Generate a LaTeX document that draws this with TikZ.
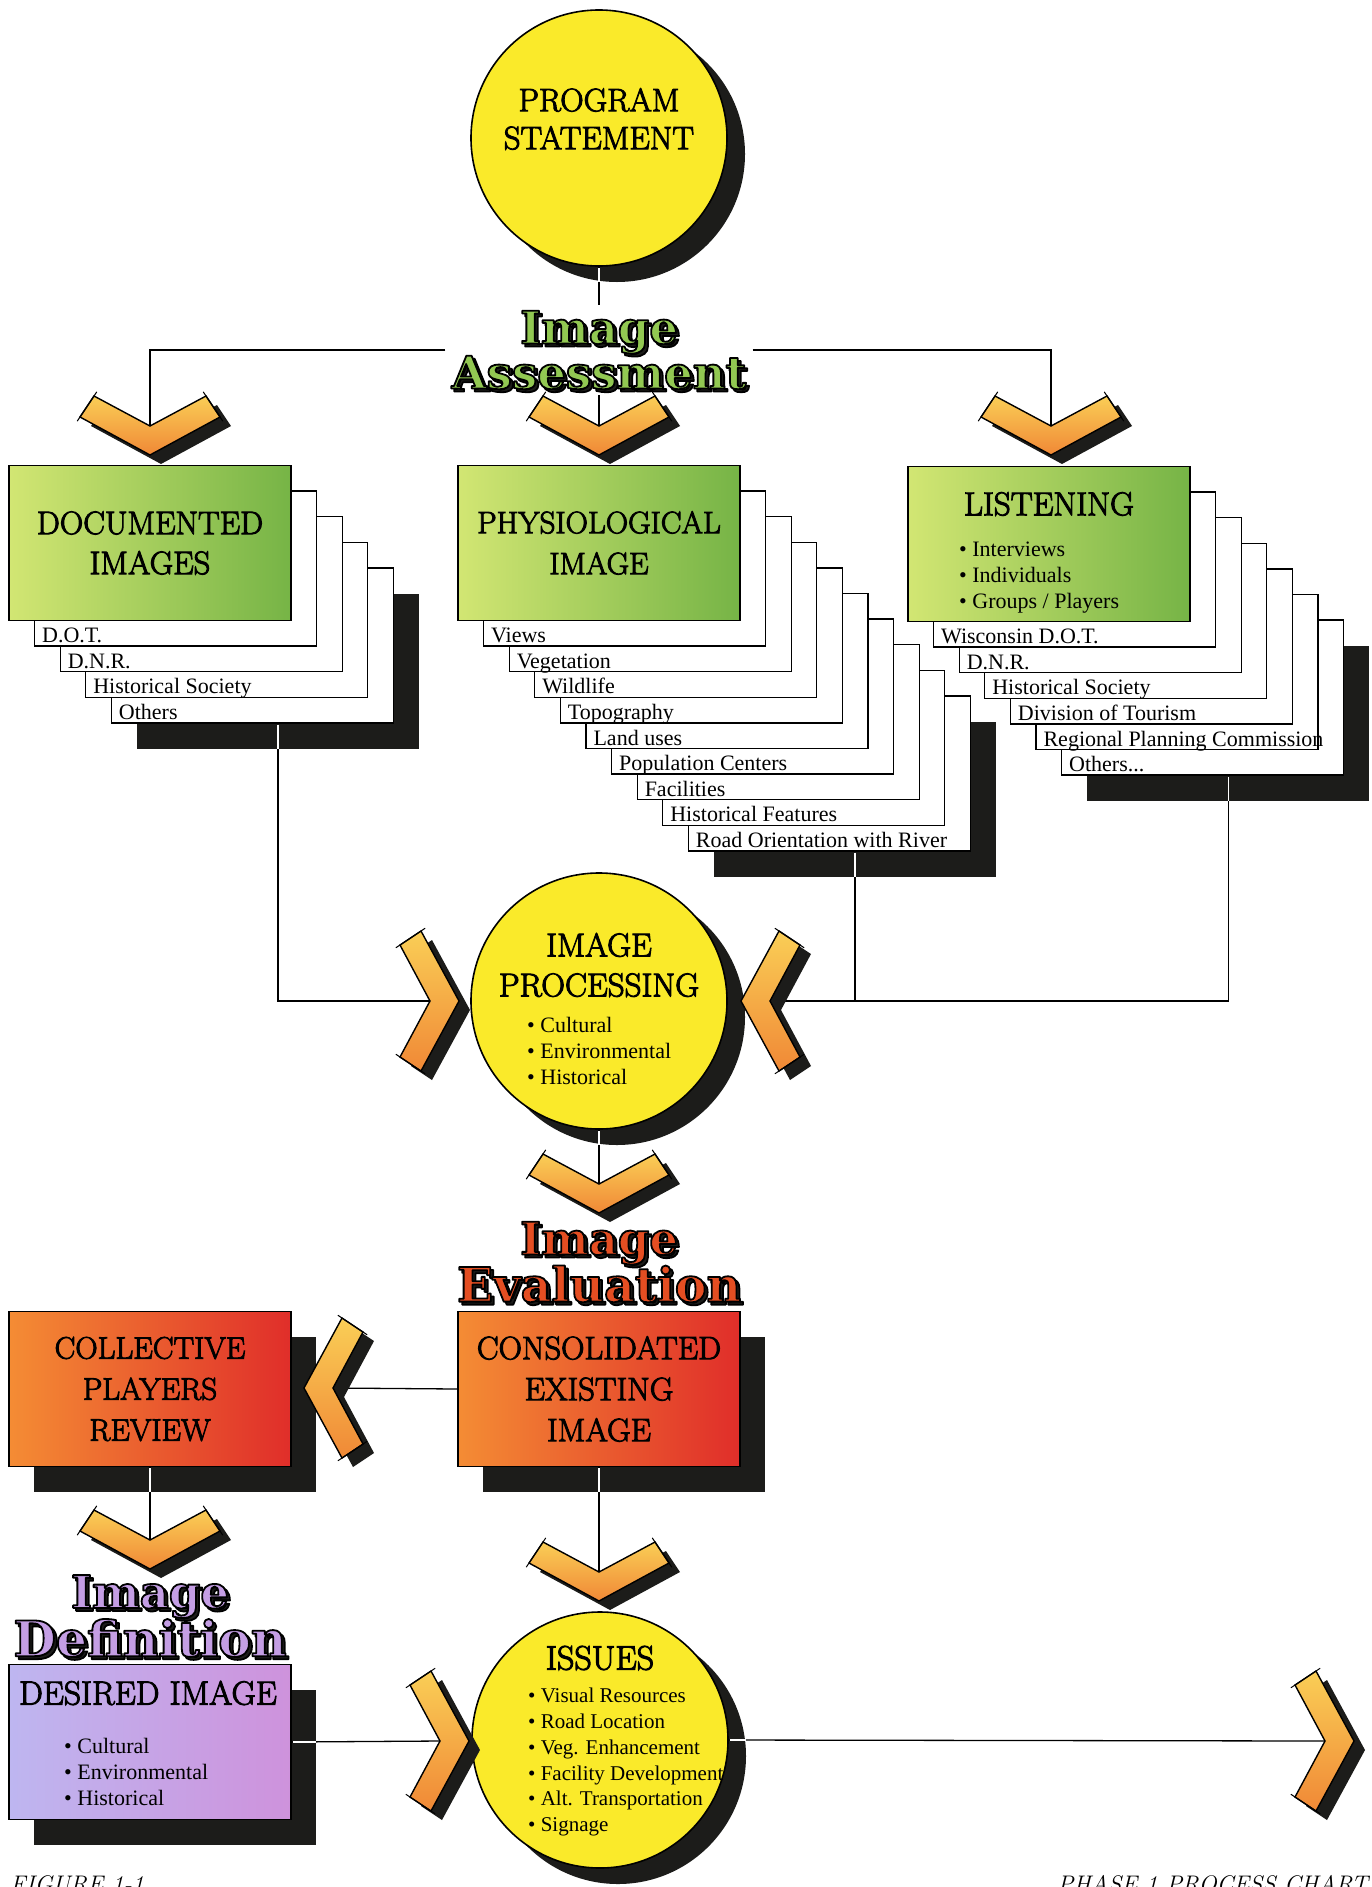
\documentclass[tikz,border=0pt]{standalone}
\usepackage{fontspec}
\newfontfamily\listfont{Liberation Serif}
\newfontfamily\artfont{DejaVu Serif}
\newfontfamily\headfont{Latin Modern Roman}[FakeBold=3]
\newcommand{\threedots}{...}
% fill the glyphs and stroke them in black
\newcommand{\inked}[1]{\special{pdf:literal direct 0 G 1.8 w 1 j 2 Tr}#1\special{pdf:literal direct 0 Tr}}

\definecolor{sunny}{RGB}{250,234,42}
\definecolor{darkshadow}{RGB}{28,28,26}
\definecolor{leafA}{RGB}{210,230,115}
\definecolor{leafB}{RGB}{118,180,70}
\definecolor{emberA}{RGB}{244,140,52}
\definecolor{emberB}{RGB}{224,46,42}
\definecolor{lilacA}{RGB}{190,182,240}
\definecolor{lilacB}{RGB}{206,146,220}
\definecolor{chevA}{RGB}{250,206,86}
\definecolor{chevB}{RGB}{240,136,54}
\definecolor{artgreen}{RGB}{146,200,82}
\definecolor{artred}{RGB}{228,78,34}
\definecolor{artlilac}{RGB}{196,158,228}

\tikzset{
  conn/.style={line width=1.3pt, black},
  cutline/.style={line width=1.3pt, white, shorten <=1pt},
  bigcircle/.style={circle, draw=black, line width=1.6pt, fill=sunny, minimum size=256pt, inner sep=0pt},
  circshadow/.style={circle, fill=darkshadow, minimum size=256pt, inner sep=0pt},
  tabbox/.style={draw=black, line width=1.3pt, fill=white, minimum width=282pt, minimum height=155pt, inner sep=0pt},
  boxshadow/.style={fill=darkshadow, minimum width=282pt, minimum height=155pt, inner sep=0pt},
  headtext/.style={font=\headfont\fontsize{32.5}{40}\selectfont, align=center, inner sep=0pt},
  colbox/.style={draw=black, line width=1.6pt, minimum width=282pt, minimum height=155pt, inner sep=0pt, align=center, font=\headfont\fontsize{32.5}{41}\selectfont},
  greenbox/.style={colbox, left color=leafA, right color=leafB},
  redbox/.style={colbox, left color=emberA, right color=emberB},
  lilacbox/.style={colbox, left color=lilacA, right color=lilacB},
  tablabel/.style={font=\listfont\fontsize{22}{26}\selectfont, inner sep=0pt, anchor=base west},
  bullets/.style={font=\listfont\fontsize{22}{26}\selectfont, inner sep=0pt, align=left, anchor=north west},
  arttitle/.style={font=\artfont\bfseries\fontsize{45}{45}\selectfont, align=center, inner sep=6pt},
  chevbody/.style={draw=black, line width=1.4pt, top color=chevA, bottom color=chevB},
  chevshadow/.style={fill=darkshadow},
  chevtick/.style={black, line width=1pt, shorten <=-5pt, shorten >=-5pt},
  footer/.style={font=\itshape\fontsize{24}{24}\selectfont, inner sep=0pt}
}

% chevron with its inner vertex at #1, turned by #2
\newcommand{\chevmark}[2]{%
  \begin{scope}[shift={(#1)}]
    \fill[chevshadow, shift={(11,9)}, rotate=#2] (0,0) -- (-56,-30) -- (-70,-9) -- (0,29) -- (70,-9) -- (56,-30) -- cycle;
    \filldraw[chevbody, rotate=#2] (0,0) -- (-56,-30) -- (-70,-9) -- (0,29) -- (70,-9) -- (56,-30) -- cycle;
    \draw[chevtick, rotate=#2] (-56,-30) -- (-70,-9);
    \draw[chevtick, rotate=#2] (56,-30) -- (70,-9);
  \end{scope}}

\begin{document}
\begin{tikzpicture}[x=1pt, y=-1pt]
\useasboundingbox (0,0) rectangle (1372,1887);
\fill[white] (0,0) rectangle (1372,1887);
\clip (0,0) rectangle (1372,1887);

% program statement
\node[circshadow] (psh) at (617,154) {};
\node[bigcircle] (ps) at (599,138) {};
\node[headtext, font=\headfont\fontsize{32.5}{38}\selectfont] (pst) at (599,119) {PROGRAM\\STATEMENT};

% documented images
\coordinate (docc) at (150,543);
\node[boxshadow] (docsh) at ([shift={(5*25.6,5*25.6)}]docc) {};
\foreach \k/\t in {4/Others,3/Historical Society,2/D.N.R.,1/D.O.T.}{
  \node[tabbox] (doc\k) at ([shift={(\k*25.6,\k*25.6)}]docc) {};
  \node[tablabel] (doclbl\k) at ([shift={(8,-4)}]doc\k.south west) {\t};
}
\node[greenbox, font=\headfont\fontsize{32.5}{40}\selectfont] (doc) at (docc) {DOCUMENTED\\IMAGES};

% physiological image
\coordinate (phyc) at (599,543);
\node[boxshadow] (physh) at ([shift={(10*25.6,10*25.6)}]phyc) {};
\foreach \k/\t in {9/Road Orientation with River,8/Historical Features,7/Facilities,6/Population Centers,5/Land uses,4/Topography,3/Wildlife,2/Vegetation,1/Views}{
  \node[tabbox] (phy\k) at ([shift={(\k*25.6,\k*25.6)}]phyc) {};
  \node[tablabel] (phylbl\k) at ([shift={(8,-4)}]phy\k.south west) {\t};
}
\node[greenbox, font=\headfont\fontsize{31}{41}\selectfont] (phy) at (phyc) {PHYSIOLOGICAL\\IMAGE};

% listening
\coordinate (lisc) at (1049,544);
\node[boxshadow] (lissh) at ([shift={(7*25.6,7*25.6)}]lisc) {};
\foreach \k/\t in {6/Others\threedots,5/Regional Planning Commission,4/Division of Tourism,3/Historical Society,2/D.N.R.,1/Wisconsin D.O.T.}{
  \node[tabbox] (lis\k) at ([shift={(\k*25.6,\k*25.6)}]lisc) {};
  \node[tablabel] (lislbl\k) at ([shift={(8,-4)}]lis\k.south west) {\t};
}
\node[greenbox] (lis) at (lisc) {};
\node[headtext, font=\headfont\fontsize{33}{40}\selectfont] (lish) at (1049,504) {LISTENING};
\node[bullets] (lisb) at (959,542) {• Interviews\\• Individuals\\• Groups / Players};

% image processing
\node[circshadow] (pcsh) at (617,1017) {};
\node[bigcircle] (pc) at (599,1001) {};
\node[headtext, font=\headfont\fontsize{33}{40}\selectfont] (pch) at (599,965) {IMAGE\\PROCESSING};
\node[bullets] (pcb) at (527,1017) {• Cultural\\• Environmental\\• Historical};

% evaluation boxes
\node[boxshadow] (conssh) at (624,1414) {};
\node[redbox] (cons) at (599,1389) {CONSOLIDATED\\EXISTING\\IMAGE};
\node[boxshadow] (collsh) at (175,1414) {};
\node[redbox, font=\headfont\fontsize{31}{41}\selectfont] (coll) at (150,1389) {COLLECTIVE\\PLAYERS\\REVIEW};

% desired image
\node[boxshadow] (dessh) at (175,1767) {};
\node[lilacbox] (des) at (150,1742) {};
\node[headtext, font=\headfont\fontsize{33.5}{40}\selectfont] (desh) at (148,1693) {DESIRED IMAGE};
\node[bullets] (desb) at (64,1738) {• Cultural\\• Environmental\\• Historical};

% issues
\node[circshadow] (issh) at (618,1756) {};
\node[bigcircle] (is) at (600,1740) {};
\node[headtext, font=\headfont\fontsize{34}{40}\selectfont] (ist) at (600,1658) {ISSUES};
\node[bullets, font=\listfont\fontsize{21}{25.8}\selectfont] (isb) at (528,1688) {• Visual Resources\\• Road Location\\• Veg. Enhancement\\• Facility Development\\• Alt. Transportation\\• Signage};

% chevron points
\coordinate (ca1) at (150,426);
\coordinate (ca2) at (599,426);
\coordinate (ca3) at (1051,426);
\coordinate (cp1) at (430,1001);
\coordinate (cp2) at (770,1001);
\coordinate (ce) at (599,1184);
\coordinate (cc) at (333,1388);
\coordinate (cr) at (150,1540);
\coordinate (ci) at (599,1572);
\coordinate (cd) at (440,1741);
\coordinate (cz) at (1325,1741);

% titles
\node[arttitle, text=darkshadow] (iash) at (602,353) {\inked{Image}\\\inked{Assessment}};
\node[arttitle, text=artgreen] (ia) at (599,350) {\inked{Image}\\\inked{Assessment}};
\node[arttitle, text=darkshadow] (iesh) at (602,1265) {\inked{Image}\\\fontsize{47.5}{45}\selectfont\inked{Evaluation}};
\node[arttitle, text=artred] (ie) at (599,1262) {\inked{Image}\\\fontsize{47.5}{45}\selectfont\inked{Evaluation}};
\node[arttitle, text=darkshadow] (idsh) at (153,1619) {\inked{Image}\\\fontsize{49}{45}\selectfont\inked{Definition}};
\node[arttitle, text=artlilac] (id) at (150,1616) {\inked{Image}\\\fontsize{49}{45}\selectfont\inked{Definition}};

% connectors
\draw[conn] (ps.south) -- (ia.north);
\draw[cutline] (ps.south) -- (ps.south |- psh.south);
\draw[conn] (ia.west) -| (ca1);
\draw[conn] (ia.east) -| (ca3);
\draw[conn] (ia.south) -- (ca2);
\draw[conn] (docsh.south) |- (cp1);
\draw[cutline] (docsh.center |- doc4.south) -- (docsh.south);
\draw[conn] (physh.south) -- (physh.south |- cp2);
\draw[cutline] (physh.center |- phy9.south) -- (physh.south);
\draw[conn] (lissh.south) |- (cp2);
\draw[cutline] (lissh.center |- lis6.south) -- (lissh.south);
\draw[conn] (pc.south) -- (ce);
\draw[cutline] (pc.south) -- (pc.south |- pcsh.south);
\draw[conn] (cons.west) -- (cc);
\draw[conn] (cons.south) -- (ci);
\draw[cutline] (cons.south) -- (cons.south |- conssh.south);
\draw[conn] (coll.south) -- (cr);
\draw[cutline] (coll.south) -- (coll.south |- collsh.south);
\draw[conn] (des.east) -- (cd);
\draw[cutline] (des.east) -- (des.east -| dessh.east);
\draw[conn] (is.east) -- (cz);
\draw[cutline] (is.east) -- (is.east -| issh.east);

% chevrons
\chevmark{ca1}{0}
\chevmark{ca2}{0}
\chevmark{ca3}{0}
\chevmark{cp1}{90}
\chevmark{cp2}{-90}
\chevmark{ce}{0}
\chevmark{cc}{-90}
\chevmark{cr}{0}
\chevmark{ci}{0}
\chevmark{cd}{90}
\chevmark{cz}{90}

% footer
\node[footer, anchor=base west] (fig) at (10,1892) {FIGURE 1-1};
\node[footer, anchor=base east] (phase) at (1368,1892) {PHASE 1 PROCESS CHART};
\end{tikzpicture}
\end{document}
